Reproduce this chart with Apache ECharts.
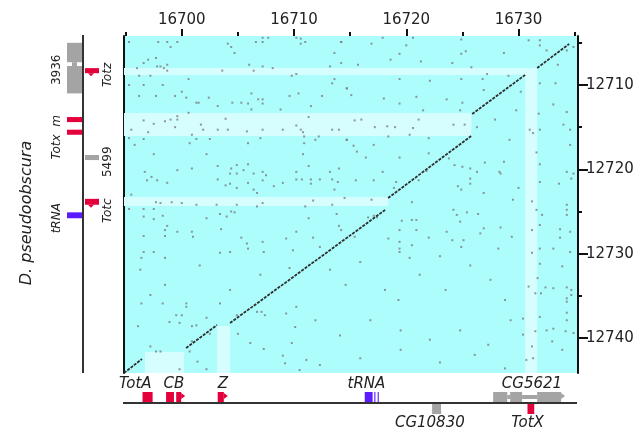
<!DOCTYPE html>
<html><head><meta charset="utf-8">
<script src="https://cdn.jsdelivr.net/npm/echarts@6/dist/echarts.min.js"></script>
<style>html,body{margin:0;padding:0;background:#fff}#c{width:642px;height:433px}</style>
</head><body><div id="c"></div>
<script>
// Genome windows (D. melanogaster along x, D. pseudoobscura along y)
const xRange = [16694.85, 16735.3];
const yRange = [12704.19, 12744.15];
const xMajorTicks = [16700, 16710, 16720, 16730];
const xMinorTicks = [16695, 16705, 16715, 16725, 16735];
const yMajorTicks = [12710, 12720, 12730, 12740];
const yMinorTicks = [12705, 12715, 12725, 12735];

// Conserved alignment runs: [xStart, yStart, xEnd, yEnd]
const alignmentRuns = [
  [16694.85, 12744.15, 16696.45, 12742.49],
  [16700.38, 12741.19, 16703.14, 12738.46],
  [16704.30, 12738.22, 16718.11, 12724.82],
  [16718.38, 12723.40, 16725.78, 12716.05],
  [16725.87, 12713.44, 16730.59, 12708.81],
  [16731.66, 12707.98, 16734.51, 12705.14]
];

// Highlighted gene stripes: [xStart, xEnd, yStart, yEnd]
const geneStripes = [
  [16694.85, 16731.66, 12707.98, 12708.81],
  [16730.59, 16731.66, 12707.98, 12744.15],
  [16694.85, 16725.80, 12713.32, 12716.05],
  [16694.85, 16718.40, 12723.28, 12724.35],
  [16696.72, 16700.20, 12741.66, 12744.15],
  [16703.14, 16704.30, 12738.58, 12744.15]
];

// Isolated short word matches
const matchDots = [
[16695.3,12704.9],[16697.9,12704.9],[16698.7,12704.9],[16699.6,12704.9],[16699.0,12705.5],[16704.1,12705.1],[16704.4,12705.5],[16704.7,12706.2],[16706.6,12704.9],[16707.2,12704.9],[16707.2,12704.4],[16707.7,12704.4],[16710.2,12704.4],[16710.6,12704.5],[16710.6,12705.1],[16711.0,12704.9],[16714.2,12704.9],[16713.6,12706.2],[16697.0,12707.0],[16697.7,12706.8],[16696.6,12707.4],[16697.8,12707.8],[16698.1,12707.8],[16698.4,12708.0],[16698.7,12707.6],[16698.7,12708.3],[16696.0,12708.0],[16696.2,12708.9],[16697.2,12708.9],[16695.3,12710.0],[16696.6,12710.0],[16698.3,12710.0],[16700.6,12709.3],[16706.0,12707.6],[16707.2,12707.8],[16706.4,12708.3],[16708.1,12708.0],[16703.6,12708.3],[16709.8,12708.9],[16710.2,12708.7],[16713.2,12707.8],[16714.2,12707.4],[16713.6,12709.3],[16713.4,12709.8],[16714.7,12710.4],[16700.0,12710.8],[16696.2,12711.3],[16697.7,12711.3],[16699.4,12711.3],[16700.4,12711.5],[16701.3,12712.1],[16701.5,12712.1],[16702.4,12711.5],[16704.5,12712.1],[16705.3,12712.1],[16706.2,12711.0],[16706.8,12711.7],[16707.2,12711.7],[16705.9,12712.2],[16707.2,12712.2],[16706.2,12712.9],[16703.2,12712.5],[16708.8,12712.9],[16709.6,12711.3],[16710.4,12711.0],[16712.5,12711.3],[16711.5,12712.5],[16700.6,12713.3],[16696.6,12714.2],[16697.5,12714.6],[16698.5,12714.3],[16699.0,12714.1],[16699.6,12713.7],[16699.6,12714.1],[16703.9,12714.0],[16701.7,12714.7],[16695.5,12715.3],[16697.0,12715.6],[16699.4,12715.0],[16700.9,12715.9],[16701.9,12715.3],[16703.2,12715.3],[16704.1,12715.3],[16705.8,12715.5],[16707.2,12715.3],[16709.0,12715.3],[16710.2,12714.8],[16710.6,12715.3],[16710.8,12715.6],[16710.9,12716.1],[16711.3,12713.8],[16712.2,12716.1],[16713.4,12715.3],[16714.0,12715.3],[16695.3,12716.3],[16696.6,12716.4],[16700.7,12716.9],[16701.3,12716.4],[16702.5,12716.4],[16705.9,12716.9],[16707.0,12716.3],[16710.9,12716.9],[16711.9,12716.5],[16714.7,12716.5],[16695.8,12717.1],
[16714.2,12704.9],[16716.9,12705.1],[16717.9,12704.4],[16720.0,12705.3],[16720.6,12704.4],[16719.4,12706.3],[16718.6,12707.0],[16721.3,12707.2],[16724.1,12707.4],[16724.9,12706.3],[16725.3,12706.0],[16724.9,12704.6],[16725.8,12707.9],[16728.7,12706.2],[16730.9,12704.7],[16731.9,12704.7],[16731.9,12705.3],[16732.5,12705.9],[16733.5,12707.6],[16734.3,12705.9],[16734.9,12705.5],[16715.7,12707.6],[16714.7,12710.4],[16719.4,12709.3],[16722.1,12709.5],[16724.9,12709.3],[16726.8,12709.3],[16727.2,12708.7],[16729.1,12708.9],[16730.2,12710.8],[16731.9,12709.8],[16733.3,12709.8],[16715.1,12711.2],[16718.0,12711.6],[16719.4,12712.2],[16720.9,12711.4],[16723.6,12711.7],[16725.0,12712.1],[16724.8,12713.0],[16721.5,12713.0],[16726.9,12710.6],[16727.9,12714.1],[16729.8,12713.0],[16731.8,12713.4],[16733.1,12712.3],[16734.3,12713.2],[16715.4,12714.2],[16716.0,12714.1],[16717.2,12715.0],[16718.3,12714.9],[16719.0,12715.0],[16720.6,12715.1],[16721.1,12714.1],[16714.7,12716.5],[16715.3,12717.2],[16720.3,12715.9],[16722.0,12716.3],[16724.2,12714.7],[16725.2,12714.7],[16726.3,12715.0],[16731.0,12715.3],[16731.9,12715.3],[16734.0,12714.7],[16734.6,12715.3],[16734.6,12717.1],[16729.2,12716.5],[16731.3,12715.7],[16718.4,12716.1],[16717.1,12717.1],
[16697.5,12718.2],[16702.2,12718.2],[16710.8,12718.2],[16703.2,12719.6],[16700.9,12719.9],[16699.6,12720.1],[16704.9,12719.5],[16704.4,12719.9],[16705.9,12719.4],[16704.3,12720.5],[16704.9,12720.5],[16705.5,12720.1],[16706.4,12720.5],[16707.2,12720.3],[16707.5,12720.7],[16707.2,12721.3],[16708.2,12722.0],[16709.0,12721.6],[16710.2,12720.3],[16710.2,12721.2],[16710.7,12721.2],[16711.5,12721.2],[16711.5,12721.7],[16712.3,12721.2],[16713.2,12720.3],[16714.0,12719.9],[16713.4,12721.2],[16713.9,12721.5],[16711.3,12719.6],[16696.7,12720.3],[16697.3,12720.9],[16696.9,12721.3],[16697.8,12721.3],[16698.7,12721.6],[16703.2,12721.2],[16703.9,12721.9],[16704.3,12721.7],[16704.9,12722.2],[16705.9,12721.6],[16706.4,12722.4],[16706.7,12722.8],[16695.5,12723.0],[16713.6,12722.4],[16714.5,12723.4],[16697.7,12723.9],[16698.1,12724.0],[16699.1,12723.9],[16700.0,12724.0],[16701.3,12724.2],[16703.1,12724.2],[16704.9,12724.2],[16707.2,12724.0],[16706.7,12724.4],[16711.7,12723.7],[16713.4,12724.2],[16695.3,12724.7],[16696.6,12724.7],[16697.5,12724.7],[16696.6,12725.6],[16697.5,12725.9],[16698.3,12725.5],[16702.2,12725.8],[16703.4,12725.3],[16704.0,12725.6],[16704.4,12725.0],[16704.7,12725.1],[16711.0,12724.4],[16711.3,12725.8],[16713.8,12725.3],[16698.7,12726.7],[16698.5,12727.2],[16699.6,12727.4],[16700.9,12727.4],[16703.5,12727.1],[16710.2,12727.4],[16714.0,12726.7],[16714.2,12727.2],[16696.6,12727.9],[16698.5,12727.9],[16701.0,12728.0],[16705.3,12728.1],[16707.2,12728.6],[16705.8,12728.8],[16709.3,12728.2],[16711.7,12728.1],[16712.3,12729.2],[16696.6,12729.8],[16697.5,12729.8],[16703.4,12729.9],[16704.3,12729.8],[16705.9,12729.4],[16707.3,12729.8],[16709.9,12729.6],[16696.4,12730.5],[16698.5,12730.5],
[16715.6,12717.9],[16716.4,12718.6],[16719.4,12718.6],[16722.0,12718.1],[16723.8,12718.7],[16727.0,12719.2],[16728.7,12719.1],[16731.6,12718.0],[16731.9,12719.4],[16734.9,12720.5],[16734.3,12720.3],[16734.7,12721.1],[16715.5,12721.3],[16717.1,12721.3],[16717.9,12720.3],[16718.9,12722.2],[16719.1,12721.5],[16721.1,12721.3],[16721.8,12720.2],[16724.3,12719.5],[16725.0,12719.7],[16725.7,12719.9],[16726.3,12720.3],[16728.3,12720.3],[16728.4,12720.5],[16725.7,12721.1],[16725.7,12721.7],[16724.6,12722.0],[16724.9,12722.4],[16726.9,12722.8],[16730.0,12722.2],[16731.9,12721.5],[16733.6,12721.7],[16716.9,12723.6],[16720.5,12723.9],[16724.2,12724.8],[16724.5,12725.4],[16724.8,12726.2],[16725.4,12725.1],[16726.4,12725.3],[16726.9,12727.0],[16729.5,12723.6],[16731.2,12723.8],[16731.6,12724.8],[16732.1,12725.4],[16734.3,12724.2],[16734.3,12724.8],[16734.3,12725.4],[16717.1,12725.5],[16716.6,12725.7],[16717.4,12725.7],[16719.6,12726.1],[16720.5,12726.0],[16720.9,12726.0],[16719.4,12727.2],[16720.9,12727.2],[16723.6,12727.4],[16728.4,12726.9],[16729.4,12728.0],[16731.9,12726.6],[16733.7,12727.1],[16734.6,12727.4],[16715.4,12728.0],[16718.4,12728.2],[16719.4,12728.6],[16719.4,12729.4],[16719.4,12729.8],[16720.5,12729.0],[16722.0,12728.1],[16724.1,12728.4],[16725.1,12728.4],[16724.9,12729.2],[16726.6,12727.6],[16728.2,12729.4],[16731.2,12727.2],[16731.2,12729.9],[16731.9,12729.4],[16733.1,12729.4],[16733.7,12728.1],[16734.6,12729.8],[16720.3,12730.5],[16723.0,12730.3],
[16696.4,12735.9],[16698.3,12735.9],[16700.4,12735.9],[16700.4,12736.3],[16703.4,12735.9],[16704.9,12737.3],[16706.7,12736.9],[16702.2,12737.6],[16699.5,12737.3],[16700.0,12737.3],[16698.9,12738.1],[16699.8,12738.2],[16700.9,12738.6],[16701.3,12738.5],[16696.1,12738.6],[16697.2,12741.0],[16697.7,12741.6],[16698.1,12741.6],[16700.7,12741.6],[16701.4,12742.8],[16699.8,12743.7],[16702.2,12743.7],[16702.5,12739.5],[16705.0,12739.5],[16706.1,12740.6],[16707.3,12741.3],[16709.0,12742.1],[16709.8,12740.6],[16710.1,12738.7],[16709.2,12743.0],[16710.5,12743.8],[16711.1,12742.6],[16709.3,12737.1],[16710.2,12736.3],[16707.1,12736.9],[16707.4,12737.3],[16700.9,12740.4],
[16731.9,12731.2],[16733.9,12731.5],[16731.7,12732.9],[16730.9,12733.9],[16732.4,12734.0],[16733.1,12734.1],[16734.3,12734.0],[16734.7,12734.3],[16731.5,12734.7],[16732.0,12734.7],[16734.3,12735.3],[16734.3,12735.7],[16734.7,12734.9],[16730.4,12737.7],[16731.9,12737.5],[16734.3,12737.0],[16734.3,12737.9],[16731.5,12739.2],[16732.5,12739.1],[16733.1,12738.9],[16734.2,12739.2],[16734.9,12739.4],[16730.4,12739.6],[16731.2,12741.0],[16733.0,12740.4],[16733.9,12741.4],[16730.7,12742.6],[16731.3,12742.4],
[16713.2,12731.9],[16714.6,12733.7],[16715.9,12731.0],[16718.1,12734.3],[16719.3,12735.5],[16721.2,12732.5],[16723.5,12734.3],[16725.7,12731.4],[16727.5,12733.1],[16728.8,12735.5],[16711.9,12737.9],[16714.1,12739.7],[16716.8,12737.9],[16719.5,12739.1],[16722.1,12740.2],[16724.8,12739.1],[16727.3,12740.8],[16729.3,12737.9],[16712.3,12743.2],[16715.9,12742.4],[16719.5,12741.4],[16723.0,12742.9],[16726.1,12742.0],[16728.8,12743.6],
[16696.3,12731.9],[16698.5,12733.7],[16701.6,12731.4],[16704.3,12734.3],[16707.0,12732.5],[16709.6,12731.7],[16697.2,12734.9]
];

// Annotated genes on the x genome (D. melanogaster); CG5621 listed exon by exon
const xGeneName   = ['TotA', 'TotC', 'TotB', 'TotZ', 'tRNA', 'tRNA', 'tRNA', 'CG5621', 'CG5621', 'CG5621', 'CG10830', 'TotX'];
const xGeneStart  = [16696.5, 16698.6, 16699.5, 16703.2, 16716.3, 16717.15, 16717.45, 16727.74, 16729.25, 16731.66, 16722.3, 16730.8];
const xGeneEnd    = [16697.4, 16699.3, 16700.3, 16704.1, 16717.0, 16717.25, 16717.55, 16729.0, 16730.32, 16734.15, 16723.1, 16731.4];
const xGeneStrand = ['+', '+', '+', '+', '+', '+', '+', '+', '+', '+', '-', '-'];
const xGeneKind   = ['tot', 'tot', 'tot', 'tot', 'trna', 'trna', 'trna', 'other', 'other', 'other', 'other', 'tot'];
const xGeneArrow  = [false, false, true, true, false, false, false, false, false, true, false, false];
const xLabelText  = ['TotA', 'CB', 'Z', 'tRNA', 'CG5621', 'CG10830', 'TotX'];
const xLabelPos   = [16695.85, 16699.3, 16703.65, 16716.45, 16731.2, 16722.1, 16730.8];
const xLabelSide  = ['+', '+', '+', '+', '+', '-', '-'];

// Annotated genes on the y genome (D. pseudoobscura)
const yGeneName   = ['3936', '3936', 'Totz', 'm', 'Totx', '5499', 'Totc', 'tRNA'];
const yGeneStart  = [12705.0, 12707.75, 12708.0, 12713.8, 12715.3, 12718.3, 12723.5, 12725.1];
const yGeneEnd    = [12707.3, 12711.0, 12708.6, 12714.4, 12715.9, 12718.9, 12724.2, 12725.8];
const yGeneStrand = ['-', '-', '+', '-', '-', '+', '+', '-'];
const yGeneKind   = ['other', 'other', 'tot', 'tot', 'tot', 'other', 'tot', 'trna'];
const yGeneArrow  = [false, false, true, false, false, false, true, false];
const yLabelText  = ['3936', 'Totx  m', 'tRNA', 'Totz', '5499', 'Totc'];
const yLabelPos   = [12708.2, 12716.2, 12725.8, 12708.8, 12719.1, 12724.9];
const yLabelSide  = ['-', '-', '-', '+', '+', '+'];
const speciesY = 'D. pseudoobscura';

const kindColor = { tot: '#e3003b', trna: '#5a1cff', other: '#a4a4a4' };
const FONT = 'DejaVu Sans';

const chart = echarts.init(document.getElementById('c'));

const tickAxis = (values, len, showLabel, extra) => Object.assign({
  type: 'value',
  axisLine: { show: false },
  axisTick: { show: true, customValues: values, length: len, lineStyle: { color: '#111', width: 2 } },
  axisLabel: showLabel
    ? { show: true, customValues: values, color: '#222', fontFamily: FONT, fontSize: 15, formatter: v => String(v) }
    : { show: false },
  splitLine: { show: false }
}, extra);

chart.setOption({
  animation: false,
  grid: { left: 124, right: 64, top: 36, bottom: 60, show: true, backgroundColor: '#adfdfd', borderWidth: 0 },
  xAxis: [
    tickAxis(xMajorTicks, 7, true, { position: 'top', min: xRange[0], max: xRange[1] }),
    tickAxis(xMinorTicks, 4, false, { position: 'top', min: xRange[0], max: xRange[1] })
  ],
  yAxis: [
    tickAxis(yMajorTicks, 10, true, { position: 'right', inverse: true, min: yRange[0], max: yRange[1],
      axisLine: { show: true, lineStyle: { color: '#111', width: 2 } } }),
    tickAxis(yMinorTicks, 4, false, { position: 'right', inverse: true, min: yRange[0], max: yRange[1] }),
    tickAxis([], 0, false, { position: 'left', inverse: true, min: yRange[0], max: yRange[1],
      axisTick: { show: false }, axisLine: { show: true, lineStyle: { color: '#111', width: 2 } } })
  ],
  series: [
    {
      type: 'custom', xAxisIndex: 0, yAxisIndex: 0, silent: true, z: 1,
      encode: { x: [0, 1], y: [2, 3] },
      data: geneStripes,
      renderItem: (params, api) => {
        const a = api.coord([api.value(0), api.value(2)]);
        const b = api.coord([api.value(1), api.value(3)]);
        return { type: 'rect', shape: { x: Math.min(a[0], b[0]), y: Math.min(a[1], b[1]),
          width: Math.abs(b[0] - a[0]), height: Math.abs(b[1] - a[1]) }, style: { fill: '#d6fefe' } };
      }
    },
    {
      type: 'scatter', xAxisIndex: 0, yAxisIndex: 0, silent: true, z: 2,
      symbol: 'rect', symbolSize: 2, data: matchDots,
      itemStyle: { color: '#7c7c7c' }
    },
    {
      type: 'lines', coordinateSystem: 'cartesian2d', xAxisIndex: 0, yAxisIndex: 0, silent: true, z: 3,
      data: alignmentRuns.map(r => ({ coords: [[r[0], r[1]], [r[2], r[3]]] })),
      lineStyle: { color: '#2e2e2e', width: 1.8, type: [3, 1.2], opacity: 1 }
    }
  ]
});

// Annotation tracks, positioned through the chart's own scales
const toPx = (x, y) => chart.convertToPixel({ seriesIndex: 1 }, [x, y]);
const g = [];
const origin = toPx(xRange[0], yRange[0]);
const corner = toPx(xRange[1], yRange[1]);
const trackY = corner[1] + 30;
const trackX = origin[0] - 41;
const textStyle = (t, size, italic) => ({ text: t, fill: '#222', font: (italic ? 'italic ' : '') + size + 'px "' + FONT + '"', align: 'center', verticalAlign: 'middle' });

// x-genome track
g.push({ type: 'line', shape: { x1: origin[0] - 1, y1: trackY, x2: corner[0] - 1, y2: trackY }, style: { stroke: '#333', lineWidth: 2 } });
xGeneName.forEach((n, i) => {
  const x0 = toPx(xGeneStart[i], yRange[1])[0];
  const x1 = toPx(xGeneEnd[i], yRange[1])[0];
  const up = xGeneStrand[i] === '+';
  const top = up ? trackY - 11 : trackY + 1;
  const fill = kindColor[xGeneKind[i]];
  const bodyEnd = xGeneArrow[i] ? x1 - 4 : x1;
  g.push({ type: 'rect', shape: { x: x0, y: top, width: Math.max(bodyEnd - x0, 1), height: 10 }, style: { fill } });
  if (xGeneArrow[i]) {
    g.push({ type: 'polygon', shape: { points: [[bodyEnd, top + 1], [x1, top + 4], [bodyEnd, top + 7]] }, style: { fill } });
  }
  // intron connector to the next exon of the same gene
  if (xGeneName[i + 1] === n && n !== 'tRNA') {
    const nx = toPx(xGeneStart[i + 1], yRange[1])[0];
    g.push({ type: 'rect', shape: { x: x1, y: top + 3, width: nx - x1, height: 4 }, style: { fill } });
  }
});
xLabelText.forEach((t, i) => {
  const x = toPx(xLabelPos[i], yRange[1])[0];
  g.push({ type: 'text', x, y: xLabelSide[i] === '+' ? trackY - 19 : trackY + 20, style: textStyle(t, 15, true) });
});

// y-genome track
g.push({ type: 'line', shape: { x1: trackX, y1: origin[1] - 1, x2: trackX, y2: corner[1] }, style: { stroke: '#333', lineWidth: 2 } });
yGeneName.forEach((n, i) => {
  const y0 = toPx(xRange[0], yGeneStart[i])[1];
  const y1 = toPx(xRange[0], yGeneEnd[i])[1];
  const left = yGeneStrand[i] === '-';
  const fill = kindColor[yGeneKind[i]];
  const x = left ? trackX - 16 : trackX + 2;
  const w = left ? 15 : 14;
  g.push({ type: 'rect', shape: { x, y: y0, width: w, height: Math.max(y1 - y0, 1) }, style: { fill } });
  if (yGeneArrow[i]) {
    g.push({ type: 'polygon', shape: { points: [[x + 3, y1], [x + 6, y1 + 3], [x + 9, y1]] }, style: { fill } });
  }
  if (yGeneName[i + 1] === n) {
    const ny = toPx(xRange[0], yGeneStart[i + 1])[1];
    g.push({ type: 'rect', shape: { x: x + 5, y: y1, width: 5, height: ny - y1 }, style: { fill } });
  }
});
yLabelText.forEach((t, i) => {
  const y = toPx(xRange[0], yLabelPos[i])[1];
  g.push({ type: 'text', x: yLabelSide[i] === '-' ? trackX - 26 : trackX + 25, y, rotation: Math.PI / 2, style: textStyle(t, 12, yLabelText[i] !== '3936' && yLabelText[i] !== '5499') });
});
g.push({ type: 'text', x: 27, y: 213, rotation: Math.PI / 2, style: textStyle(speciesY, 16, true) });

chart.setOption({ graphic: g });
</script>
</body></html>
